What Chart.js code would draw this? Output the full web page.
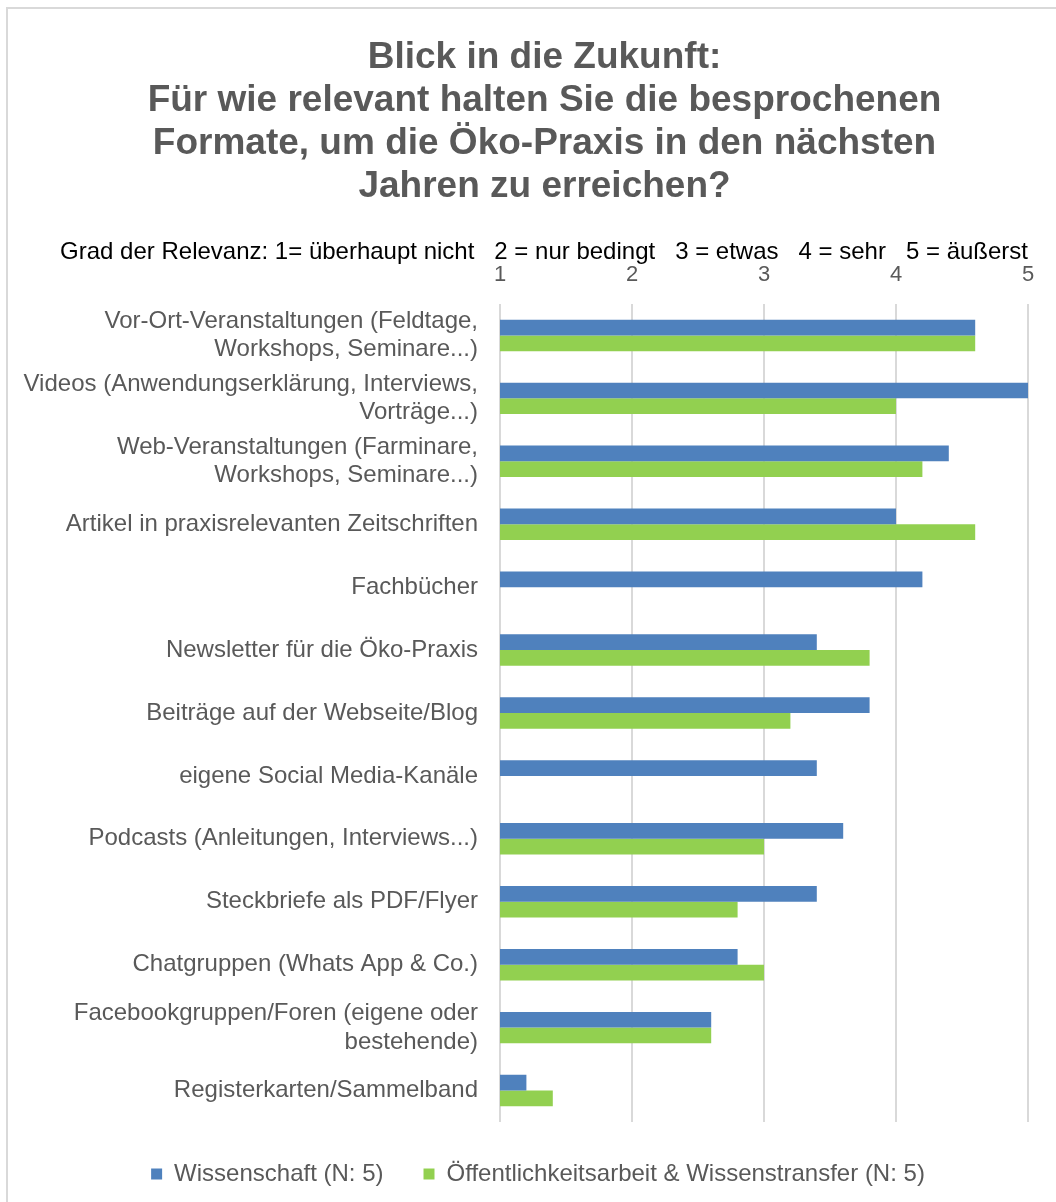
<!DOCTYPE html>
<html>
<head>
<meta charset="utf-8">
<script src="https://cdn.jsdelivr.net/npm/chart.js@4.4.1/dist/chart.umd.min.js"></script>
<style>
  html, body { margin:0; padding:0; background:#fff; }
  #wrap { position:relative; width:1056px; height:1202px; overflow:hidden; }
  #frame { position:absolute; left:6px; top:7px; width:1100px; height:1250px; border:2px solid #d9d9d9; box-sizing:border-box; }
  canvas { position:absolute; left:0; top:0; }
</style>
</head>
<body>
<div id="wrap">
  <div id="frame"></div>
  <canvas id="c" width="1056" height="1202"></canvas>
</div>
<script>
// Kategorien (Formate) und Mittelwerte je Gruppe
const categories = [
  ['Vor-Ort-Veranstaltungen (Feldtage,', 'Workshops, Seminare...)'],
  ['Videos (Anwendungserklärung, Interviews,', 'Vorträge...)'],
  ['Web-Veranstaltungen (Farminare,', 'Workshops, Seminare...)'],
  'Artikel in praxisrelevanten Zeitschriften',
  'Fachbücher',
  'Newsletter für die Öko-Praxis',
  'Beiträge auf der Webseite/Blog',
  'eigene Social Media-Kanäle',
  'Podcasts (Anleitungen, Interviews...)',
  'Steckbriefe als PDF/Flyer',
  'Chatgruppen (Whats App & Co.)',
  ['Facebookgruppen/Foren (eigene oder', 'bestehende)'],
  'Registerkarten/Sammelband'
];
const wissenschaft = [4.6, 5.0, 4.4, 4.0, 4.2, 3.4, 3.8, 3.4, 3.6, 3.4, 2.8, 2.6, 1.2];
const transfer     = [4.6, 4.0, 4.2, 4.6, null, 3.8, 3.2, null, 3.0, 2.8, 3.0, 2.6, 1.4];
const tickValues = [1, 2, 3, 4, 5];

const titleLines = [
  'Blick in die Zukunft:',
  'Für wie relevant halten Sie die besprochenen',
  'Formate, um die Öko-Praxis in den nächsten',
  'Jahren zu erreichen?'
];
const subtitleText = 'Grad der Relevanz: 1= überhaupt nicht   2 = nur bedingt   3 = etwas   4 = sehr   5 = äußerst';

const FONT = "'Liberation Sans', Arial, sans-serif";
const GRAY = '#595959';

// Titel und Legende etwas nach rechts rücken (wie im Original)
const shiftBoxes = {
  id: 'shiftBoxes',
  afterLayout(chart) {
    if (chart.titleBlock) chart.titleBlock.left = 61;
    if (chart.legend) { chart.legend.left += 14; chart.legend.right += 14; }
  }
};

new Chart(document.getElementById('c'), {
  type: 'bar',
  data: {
    labels: categories,
    datasets: [
      { label: 'Wissenschaft (N: 5)', data: wissenschaft, backgroundColor: '#4f81bd', borderWidth: 0 },
      { label: 'Öffentlichkeitsarbeit & Wissenstransfer (N: 5)', data: transfer, backgroundColor: '#92d050', borderWidth: 0 }
    ]
  },
  plugins: [shiftBoxes],
  options: {
    indexAxis: 'y',
    responsive: false,
    animation: false,
    categoryPercentage: 0.5,
    barPercentage: 1.0,
    layout: { padding: { left: 20, right: 28, top: 12, bottom: 6 } },
    plugins: {
      title: {
        display: true,
        text: titleLines,
        color: GRAY,
        font: { family: FONT, size: 37, weight: 'bold', lineHeight: 1.162 },
        padding: { top: 24, bottom: 32 }
      },
      subtitle: {
        display: true,
        text: subtitleText,
        align: 'end',
        color: '#000',
        font: { family: FONT, size: 24, lineHeight: 1 },
        padding: { top: 0, bottom: 0 }
      },
      legend: {
        position: 'bottom',
        labels: {
          color: GRAY,
          font: { family: FONT, size: 24 },
          boxWidth: 11, boxHeight: 11,
          padding: 40
        }
      },
      tooltip: { enabled: false }
    },
    scales: {
      x: {
        position: 'top',
        min: 1, max: 5,
        afterBuildTicks: s => { s.ticks = tickValues.map(v => ({ value: v })); },
        afterFit: s => { s.height = 40; },
        grid: { color: '#d9d9d9', lineWidth: 2, drawTicks: false },
        border: { display: false },
        ticks: { color: GRAY, font: { family: FONT, size: 22 }, padding: 16 }
      },
      y: {
        grid: { display: false },
        border: { display: false },
        afterFit: s => { s.width = 480; },
        ticks: { color: GRAY, font: { family: FONT, size: 24, lineHeight: 1.2 }, padding: 14, autoSkip: false }
      }
    }
  }
});
</script>
</body>
</html>
